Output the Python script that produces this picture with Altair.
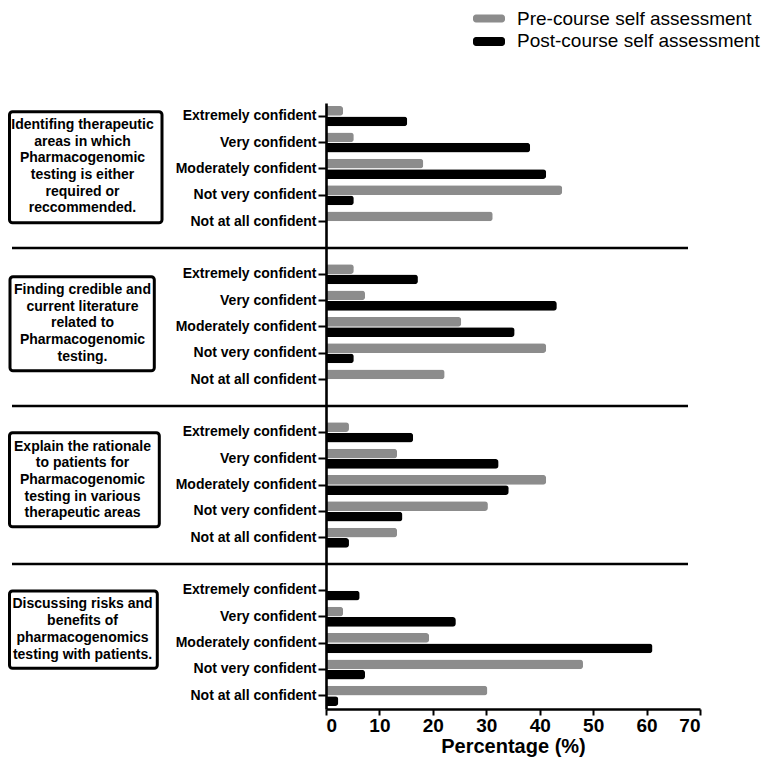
import altair as alt
import pandas as pd

categories = ["Extremely confident", "Very confident", "Moderately confident",
              "Not very confident", "Not at all confident"]
series_names = ["Pre-course self assessment", "Post-course self assessment"]
section_titles = [
    "Identifing therapeutic\nareas in which\nPharmacogenomic\ntesting is either\nrequired or\nreccommended.",
    "Finding credible and\ncurrent literature\nrelated to\nPharmacogenomic\ntesting.",
    "Explain the rationale\nto patients for\nPharmacogenomic\ntesting in various\ntherapeutic areas",
    "Discussing risks and\nbenefits of\npharmacogenomics\ntesting with patients.",
]
pre_values = [
    [3.2, 5.2, 18.2, 44.2, 31.2],
    [5.2, 7.3, 25.3, 41.2, 22.2],
    [4.3, 13.3, 41.2, 30.3, 13.3],
    [0.0, 3.2, 19.3, 48.1, 30.2],
]
post_values = [
    [15.2, 38.2, 41.2, 5.2, 0.0],
    [17.2, 43.2, 35.3, 5.2, 0.0],
    [16.3, 32.3, 34.2, 14.3, 4.3],
    [6.3, 24.3, 61.1, 7.3, 2.3],
]
colors = ["#8c8c8c", "#000000"]
x_ticks = [0, 10, 20, 30, 40, 50, 60, 70]

# build table
order = []
label_keys = []
gap_keys = []
rows = []
for s in range(4):
    for i, c in enumerate(categories):
        key = f"{s}|{c}"
        order.append(key)
        label_keys.append(key)
        rows.append({"key": key, "series": series_names[0], "value": pre_values[s][i]})
        rows.append({"key": key, "series": series_names[1], "value": post_values[s][i]})
    if s < 3:
        g = f"gap{s}"
        order.append(g)
        gap_keys.append(g)

df = pd.DataFrame(rows)
gaps = pd.DataFrame({"key": gap_keys})
one = pd.DataFrame({"a": [0]})

FONT = "Liberation Sans"

y_enc = alt.Y(
    "key:N",
    sort=order,
    scale=alt.Scale(domain=order, paddingInner=0, paddingOuter=0),
    axis=alt.Axis(
        values=label_keys,
        labelExpr="split(datum.value, '|')[1]",
        title=None,
        labelFont=FONT, labelFontSize=14, labelFontWeight="bold", labelColor="black",
        domainColor="black", domainWidth=2.6, tickColor="black", tickWidth=2,
        tickSize=8, labelPadding=2, grid=False, zindex=2,
    ),
)

bars = alt.Chart(df).mark_bar(cornerRadiusEnd=3).encode(
    x=alt.X("value:Q",
            scale=alt.Scale(domain=[0, 70], nice=False, zero=True),
            axis=alt.Axis(values=x_ticks, title="Percentage (%)", grid=False,
                          labelFont=FONT, labelFontSize=19, labelFontWeight="bold",
                          labelColor="black", titleFont=FONT, titleFontSize=20,
                          titleFontWeight="bold", titleColor="black",
                          domainColor="black", domainWidth=2.6, tickColor="black",
                          tickWidth=2, tickSize=6, labelPadding=1, titlePadding=1,
                          zindex=2)),
    y=y_enc,
    yOffset=alt.YOffset("series:N", sort=series_names,
                        scale=alt.Scale(domain=series_names, paddingInner=0.06, paddingOuter=0.3)),
    color=alt.Color("series:N", scale=alt.Scale(domain=series_names, range=colors), legend=None),
)

separators = alt.Chart(gaps).mark_rule(color="black", strokeWidth=2.5).encode(
    y=y_enc,
    x=alt.value(-314),
    x2=alt.value(362),
)

layers = [separators, bars]

# section boxes (layout in pixels relative to plot origin)
LINE_H = 16.7
box_layout = [
    (-316.5, -164, 8.7, 119.7, 63.7),
    (-316, -171.7, 173.7, 267.7, 220.3),
    (-316.5, -166.7, 329.7, 423.7, 377),
    (-316.5, -168.7, 488, 565.3, 526.5),
]
for (x1, x2, y1, y2, ty), title in zip(box_layout, section_titles):
    n_lines = title.count("\n") + 1
    first_line_y = ty - (n_lines - 1) / 2 * LINE_H
    layers.append(alt.Chart(one).mark_rect(fill="white", stroke="black", strokeWidth=3,
                                           cornerRadius=3).encode(
        x=alt.value(x1), x2=alt.value(x2), y=alt.value(y1), y2=alt.value(y2)))
    layers.append(alt.Chart(one).mark_text(
        text=title, lineBreak="\n", font=FONT, fontSize=14, fontWeight="bold",
        align="center", baseline="middle", lineHeight=LINE_H, color="black").encode(
        x=alt.value(-243.5), y=alt.value(first_line_y)))

# manual legend
legend_layout = [(-88.5, -80.5, -84.5), (-66, -57, -62)]
for (ly1, ly2, ty), name, col in zip(legend_layout, series_names, colors):
    layers.append(alt.Chart(one).mark_rect(fill=col, cornerRadius=3).encode(
        x=alt.value(147), x2=alt.value(179), y=alt.value(ly1), y2=alt.value(ly2)))
    layers.append(alt.Chart(one).mark_text(
        text=name, font=FONT, fontSize=19, align="left", baseline="middle",
        color="black").encode(x=alt.value(191), y=alt.value(ty)))

chart = alt.layer(*layers).properties(
    width=374, height=606,
    background="white",
    autosize=alt.AutoSizeParams(type="none"),
    padding={"left": 318, "top": 95, "right": 67, "bottom": 48},
).configure_view(stroke=None)

chart.save("out.html", embed_options={"renderer": "svg", "actions": False})
